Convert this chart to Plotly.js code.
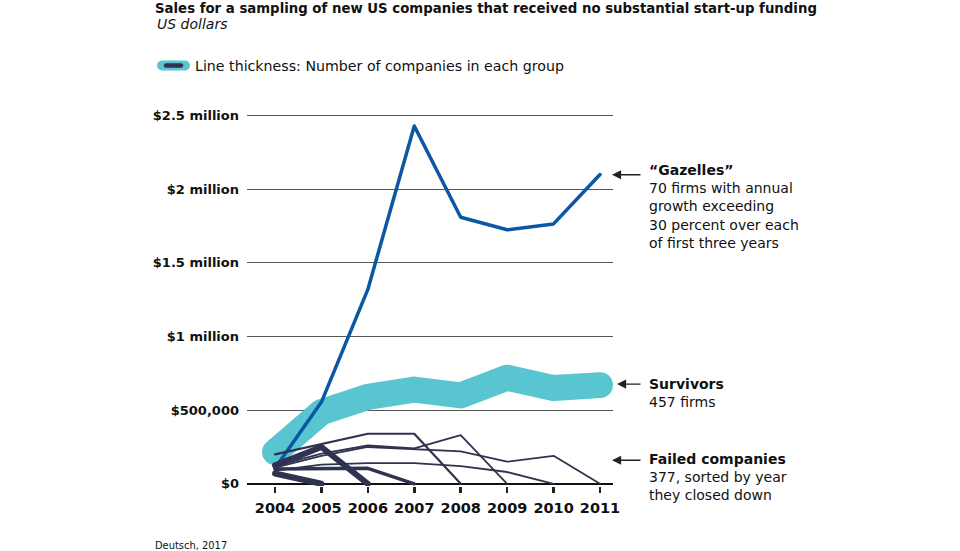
<!DOCTYPE html>
<html>
<head>
<meta charset="utf-8">
<script src="https://cdn.plot.ly/plotly-3.0.1.min.js"></script>
<style>
  html, body { margin: 0; padding: 0; background: #ffffff; }
  #chart { width: 960px; height: 551px; }
  .js-line { stroke-linejoin: round !important; stroke-linecap: round !important; }
  .shapelayer path { stroke-linecap: round !important; }
</style>
</head>
<body>
<div id="chart"></div>
<script>
// ---- Data ----
const years = [2004, 2005, 2006, 2007, 2008, 2009, 2010, 2011];

// "Gazelles": 70 firms
const gazelles = [105000, 555000, 1320000, 2430000, 1810000, 1725000, 1765000, 2100000];

// Survivors: 457 firms
const survivors = [215000, 487000, 590000, 640000, 600000, 720000, 650000, 670000];

// Failed companies, grouped by the year they closed down (value 0 in closing year)
const failed2005 = [70000, 0];
const failed2006 = [125000, 250000, 0];
const failed2007 = [100000, 105000, 105000, 0];
const failed2008 = [200000, 270000, 340000, 340000, 0];
const failed2009 = [120000, 205000, 260000, 240000, 330000, 0];
const failed2010 = [90000, 130000, 140000, 140000, 120000, 80000, 0];
const failed2011 = [110000, 190000, 250000, 235000, 220000, 150000, 190000, 0];

// Line thickness per failed group (number of companies)
const failedGroups = [
  { name: 'Closed 2005', values: failed2005, width: 6 },
  { name: 'Closed 2006', values: failed2006, width: 6 },
  { name: 'Closed 2007', values: failed2007, width: 3.5 },
  { name: 'Closed 2008', values: failed2008, width: 2.2 },
  { name: 'Closed 2009', values: failed2009, width: 1.8 },
  { name: 'Closed 2010', values: failed2010, width: 1.8 },
  { name: 'Closed 2011', values: failed2011, width: 1.8 }
];

const yTickVals = [0, 500000, 1000000, 1500000, 2000000, 2500000];
const yTickText = ['$0', '$500,000', '$1 million', '$1.5 million', '$2 million', '$2.5 million'];

// ---- Styles ----
const NAVY = '#2f3350';
const BLUE = '#0b57a4';
const CYAN = '#58c5d0';
const TXT = '#111111';

const traces = [];
traces.push({
  x: years, y: survivors, type: 'scatter', mode: 'lines', name: 'Survivors',
  line: { color: CYAN, width: 26 }, hoverinfo: 'skip'
});
traces.push({
  x: years, y: gazelles, type: 'scatter', mode: 'lines', name: 'Gazelles',
  line: { color: BLUE, width: 3.5 }, hoverinfo: 'skip'
});
failedGroups.forEach(g => {
  traces.push({
    x: years.slice(0, g.values.length), y: g.values, type: 'scatter', mode: 'lines',
    name: g.name, line: { color: NAVY, width: g.width }, hoverinfo: 'skip'
  });
});

const bodyFont = { family: 'DejaVu Sans', size: 14, color: TXT };

const layout = {
  width: 960, height: 551,
  paper_bgcolor: '#ffffff', plot_bgcolor: '#ffffff',
  showlegend: false,
  margin: { l: 247, r: 347, t: 98.4, b: 65.3, pad: 0 },
  title: {
    text: '<b>Sales for a sampling of new US companies that received no substantial start-up funding</b>',
    font: { family: 'DejaVu Sans', size: 13.3, color: TXT },
    xref: 'container', yref: 'container', x: 155 / 960, xanchor: 'left',
    y: 1 - 8 / 551, yanchor: 'middle', pad: { t: 0, b: 0, l: 0, r: 0 }
  },
  xaxis: {
    range: [2003.397, 2011.28],
    tickvals: years, ticktext: years.map(String),
    showgrid: false, zeroline: false, showline: false,
    ticks: 'outside', ticklen: 6, tickwidth: 2.5, tickcolor: '#222222',
    ticklabelstandoff: 3,
    tickfont: { family: 'DejaVu Sans', size: 14.5, color: TXT, weight: 'bold' },
    fixedrange: true
  },
  yaxis: {
    range: [-15000, 2620000],
    tickvals: yTickVals, ticktext: yTickText,
    showgrid: true, gridcolor: '#555555', gridwidth: 1,
    zeroline: true, zerolinecolor: '#111111', zerolinewidth: 1.5,
    showline: false, ticks: '',
    ticklabelstandoff: 7,
    tickfont: { family: 'DejaVu Sans', size: 13, color: TXT, weight: 'bold' },
    fixedrange: true
  },
  shapes: [
    { type: 'line', xref: 'paper', yref: 'paper', x0: -0.2322, x1: -0.1694, y0: 1.0837, y1: 1.0837,
      line: { color: CYAN, width: 10 } },
    { type: 'line', xref: 'paper', yref: 'paper', x0: -0.2213, x1: -0.1803, y0: 1.0837, y1: 1.0837,
      line: { color: NAVY, width: 4.5 } }
  ],
  annotations: [
    { xref: 'paper', yref: 'paper', x: -0.2514, y: 1.1895, xanchor: 'left', yanchor: 'middle',
      text: '<i>US dollars</i>', showarrow: false,
      font: { family: 'DejaVu Sans', size: 14, color: TXT } },
    { xref: 'paper', yref: 'paper', x: -0.1475, y: 1.0837, xanchor: 'left', yanchor: 'middle',
      text: 'Line thickness: Number of companies in each group', showarrow: false,
      font: { family: 'DejaVu Sans', size: 14.2, color: TXT } },
    { xref: 'paper', yref: 'paper', x: 1.0929, y: 0.7212, xanchor: 'left', yanchor: 'middle', align: 'left',
      text: '<b>“Gazelles”</b><br>70 firms with annual<br>growth exceeding<br>30 percent over each<br>of first three years',
      showarrow: false, font: bodyFont },
    { xref: 'paper', yref: 'paper', x: 1.0929, y: 0.2394, xanchor: 'left', yanchor: 'middle', align: 'left',
      text: '<b>Survivors</b><br>457 firms', showarrow: false, font: bodyFont },
    { xref: 'paper', yref: 'paper', x: 1.0929, y: 0.0225, xanchor: 'left', yanchor: 'middle', align: 'left',
      text: '<b>Failed companies</b><br>377, sorted by year<br>they closed down', showarrow: false, font: bodyFont },
    { xref: 'paper', yref: 'paper', x: -0.2568, y: -0.1531, xanchor: 'left', yanchor: 'middle',
      text: 'Deutsch, 2017', showarrow: false,
      font: { family: 'DejaVu Sans Condensed', size: 11, color: TXT } },
    // arrows
    { xref: 'paper', yref: 'paper', x: 0.9973, y: 0.8022, ax: 30, ay: 0, text: '', showarrow: true,
      arrowhead: 2, arrowsize: 1.3, arrowwidth: 1.4, arrowcolor: '#222222' },
    { xref: 'paper', yref: 'paper', x: 1.011, y: 0.2626, ax: 25, ay: 0, text: '', showarrow: true,
      arrowhead: 2, arrowsize: 1.3, arrowwidth: 1.4, arrowcolor: '#222222' },
    { xref: 'paper', yref: 'paper', x: 0.9973, y: 0.0664, ax: 30, ay: 0, text: '', showarrow: true,
      arrowhead: 2, arrowsize: 1.3, arrowwidth: 1.4, arrowcolor: '#222222' }
  ]
};

Plotly.newPlot('chart', traces, layout, { staticPlot: true, displayModeBar: false });
</script>
</body>
</html>
